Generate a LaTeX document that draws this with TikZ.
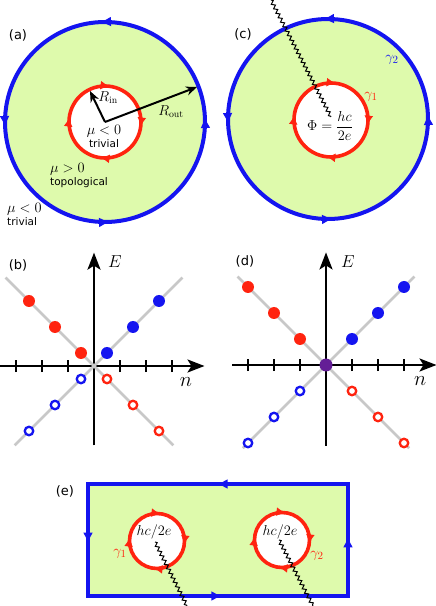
\documentclass[tikz,border=0pt]{standalone}
\usepackage{fontspec}
\newfontfamily\panelfont{DejaVu Sans}
\usetikzlibrary{arrows.meta,decorations.markings,decorations.pathmorphing,positioning}
\definecolor{topgreen}{RGB}{222,250,172}
\definecolor{loopblue}{RGB}{20,20,240}
\definecolor{loopred}{RGB}{255,35,15}
\definecolor{bandgray}{RGB}{200,200,200}
\definecolor{zeropurple}{RGB}{100,30,150}
\begin{document}
\begin{tikzpicture}[x=1pt, y=1pt]
\tikzstyle{paneltag}=[font=\panelfont\fontsize{13}{15}\selectfont, inner sep=0pt]
\tikzstyle{word}=[font=\panelfont\fontsize{10.5}{12}\selectfont, inner sep=0pt]
\tikzstyle{sym}=[font=\fontsize{14}{17}\selectfont, inner sep=0pt]
\tikzstyle{bigsym}=[font=\fontsize{15.5}{18}\selectfont, inner sep=0pt]
\tikzstyle{elab}=[font=\fontsize{18}{21}\selectfont, inner sep=0pt]
\tikzstyle{nlab}=[font=\fontsize{20}{23}\selectfont, inner sep=0pt]
\tikzstyle{outerloop}=[draw=loopblue, line width=4pt, fill=topgreen, postaction={decorate},
  decoration={markings, mark=between positions 0.008 and 0.99 step 0.25 with {\arrow{Latex[length=11pt,width=10pt]}}}]
\tikzstyle{innerloop}=[draw=loopred, line width=3.6pt, fill=white, postaction={decorate},
  decoration={markings, mark=between positions 0.02 and 0.99 step 0.25 with {\arrow{Latex[length=9pt,width=9pt]}}}]
\tikzstyle{rectloop}=[draw=loopblue, line width=4pt, fill=topgreen, postaction={decorate},
  decoration={markings, mark=at position 0.08 with {\arrow{Latex[length=11pt,width=10pt]}},
    mark=at position 0.331 with {\arrow{Latex[length=11pt,width=10pt]}},
    mark=at position 0.58 with {\arrow{Latex[length=11pt,width=10pt]}},
    mark=at position 0.827 with {\arrow{Latex[length=11pt,width=10pt]}}}]
\tikzstyle{flux}=[black, line width=1pt, decorate, decoration={snake, segment length=5pt, amplitude=1.7pt}]
\tikzstyle{radarrow}=[-{Stealth[length=11pt,width=9pt]}, line width=2pt]
\tikzstyle{axisline}=[-{Stealth[length=17pt,width=13pt,inset=4pt]}, line width=2.5pt]
\tikzstyle{tickmark}=[line width=2.5pt]
\tikzstyle{band}=[bandgray, line width=2.8pt]
\tikzstyle{rfill}=[circle, fill=loopred, minimum size=12pt, inner sep=0pt]
\tikzstyle{bfill}=[circle, fill=loopblue, minimum size=12pt, inner sep=0pt]
\tikzstyle{ropen}=[circle, draw=loopred, fill=white, line width=2.3pt, minimum size=8.5pt, inner sep=0pt]
\tikzstyle{bopen}=[circle, draw=loopblue, fill=white, line width=2.3pt, minimum size=8.5pt, inner sep=0pt]
\useasboundingbox (0,0) rectangle (436,606);

% (a)
\coordinate (Oa) at (105,484);
\coordinate (rinTip) at (90,515);
\coordinate (routTip) at (197,519);
\draw[outerloop] (Oa) circle[radius=100];
\draw[innerloop] ([xshift=36pt]Oa) arc[start angle=0, end angle=-360, radius=36];
\draw[radarrow] (Oa) -- (rinTip);
\draw[radarrow] (Oa) -- (routTip);
\node[paneltag] (tagA) at (18,571) {(a)};
\node[sym] (rinLab) at (108,508) {$R_{\mathrm{in}}$};
\node[sym] (routLab) at (171,494) {$R_{\mathrm{out}}$};
\node[sym] (muIn) at (104,475) {$\mu<0$};
\node[word, below=2.5pt of muIn] (trivIn) {trivial};
\node[sym, anchor=west] (muTop) at (50,437) {$\mu>0$};
\node[word, anchor=north west] (topo) at ([yshift=-2.5pt]muTop.south west) {topological};
\node[sym, anchor=west] (muOut) at (7,397) {$\mu<0$};
\node[word, anchor=north west] (trivOut) at ([yshift=-2.5pt]muOut.south west) {trivial};

% (c)
\coordinate (Oc) at (328,487);
\coordinate (Ic) at (331,486);
\coordinate (fluxTopC) at (271,606);
\coordinate (fluxEndC) at (331,489);
\draw[outerloop] (Oc) circle[radius=100];
\draw[innerloop] ([xshift=37pt]Ic) arc[start angle=0, end angle=-360, radius=37];
\draw[flux] (fluxTopC) -- (fluxEndC);
\node[paneltag] (tagC) at (243,572) {(c)};
\node[bigsym] (phi) at (330,480) {$\displaystyle\Phi=\frac{hc}{2e}$};
\node[bigsym, text=loopred] (g1c) at (371,509) {$\gamma_1$};
\node[bigsym, text=loopblue] (g2c) at (392,546) {$\gamma_2$};

% (b)
\begin{scope}[shift={(94,240)}, x=26pt, y=26pt]
\coordinate (bL) at (-3.6,0);
\coordinate (bR) at (4.25,0);
\coordinate (bD) at (0,-3.05);
\coordinate (bU) at (0,4.36);
\draw[axisline] (bL) -- (bR);
\draw[axisline] (bD) -- (bU);
\draw[tickmark] (-3,-.24) -- (-3,.24) (-2,-.24) -- (-2,.24) (-1,-.24) -- (-1,.24)
  (1,-.24) -- (1,.24) (2,-.24) -- (2,.24) (3,-.24) -- (3,.24);
\draw[band] (-3.4,3.4) -- (3.05,-3.05);
\draw[band] (-3.05,-3.05) -- (3.4,3.4);
\node[rfill] (br1) at (-0.5,0.5) {};
\node[rfill] (br2) at (-1.5,1.5) {};
\node[rfill] (br3) at (-2.5,2.5) {};
\node[bfill] (bb1) at (0.5,0.5) {};
\node[bfill] (bb2) at (1.5,1.5) {};
\node[bfill] (bb3) at (2.5,2.5) {};
\node[bopen] (bo1) at (-0.5,-0.5) {};
\node[bopen] (bo2) at (-1.5,-1.5) {};
\node[bopen] (bo3) at (-2.5,-2.5) {};
\node[ropen] (ro1) at (0.5,-0.5) {};
\node[ropen] (ro2) at (1.5,-1.5) {};
\node[ropen] (ro3) at (2.5,-2.5) {};
\node[paneltag] (tagB) at (-2.92,3.88) {(b)};
\node[elab] (bE) at (0.8,4.0) {$E$};
\node[nlab] (bN) at (3.54,-0.6) {$n$};
\end{scope}

% (d)
\begin{scope}[shift={(326,241)}, x=26pt, y=26pt]
\coordinate (dL) at (-3.6,0);
\coordinate (dR) at (4.25,0);
\coordinate (dD) at (0,-3.1);
\coordinate (dU) at (0,4.33);
\draw[axisline] (dL) -- (dR);
\draw[axisline] (dD) -- (dU);
\draw[tickmark] (-3,-.24) -- (-3,.24) (-2,-.24) -- (-2,.24) (-1,-.24) -- (-1,.24)
  (1,-.24) -- (1,.24) (2,-.24) -- (2,.24) (3,-.24) -- (3,.24);
\draw[band] (-3.4,3.4) -- (3.2,-3.2);
\draw[band] (-3.2,-3.2) -- (3.4,3.4);
\node[rfill] (dr1) at (-1,1) {};
\node[rfill] (dr2) at (-2,2) {};
\node[rfill] (dr3) at (-3,3) {};
\node[bfill] (db1) at (1,1) {};
\node[bfill] (db2) at (2,2) {};
\node[bfill] (db3) at (3,3) {};
\node[bopen] (do1) at (-1,-1) {};
\node[bopen] (do2) at (-2,-2) {};
\node[bopen] (do3) at (-3,-3) {};
\node[ropen] (dro1) at (1,-1) {};
\node[ropen] (dro2) at (2,-2) {};
\node[ropen] (dro3) at (3,-3) {};
\node[circle, fill=zeropurple, minimum size=13pt, inner sep=0pt] (zero) at (0,0) {};
\node[paneltag] (tagD) at (-3.12,4.0) {(d)};
\node[elab] (dE) at (0.84,3.96) {$E$};
\node[nlab] (dN) at (3.62,-0.62) {$n$};
\end{scope}

% (e)
\coordinate (eTL) at (88,122);
\coordinate (eBL) at (88,10);
\coordinate (eBR) at (348,10);
\coordinate (eTR) at (348,122);
\coordinate (O1) at (157,65);
\coordinate (O2) at (282,66);
\coordinate (fluxA1) at (155,64);
\coordinate (fluxB1) at (187,0);
\coordinate (fluxA2) at (279,66);
\coordinate (fluxB2) at (313,0);
\draw[rectloop] (eTL) -- (eBL) -- (eBR) -- (eTR) -- cycle;
\draw[innerloop] ([xshift=27.5pt]O1) arc[start angle=0, end angle=-360, radius=27.5];
\draw[innerloop] ([xshift=27.5pt]O2) arc[start angle=0, end angle=-360, radius=27.5];
\draw[flux] (fluxA1) -- (fluxB1);
\draw[flux] (fluxA2) -- (fluxB2);
\node[paneltag] (tagE) at (65,115) {(e)};
\node[bigsym] (hc1) at (154,74) {$hc/2e$};
\node[bigsym] (hc2) at (280,74) {$hc/2e$};
\node[bigsym, text=loopred] (g1e) at (120,52) {$\gamma_1$};
\node[bigsym, text=loopred] (g2e) at (317,50) {$\gamma_2$};
\end{tikzpicture}
\end{document}
